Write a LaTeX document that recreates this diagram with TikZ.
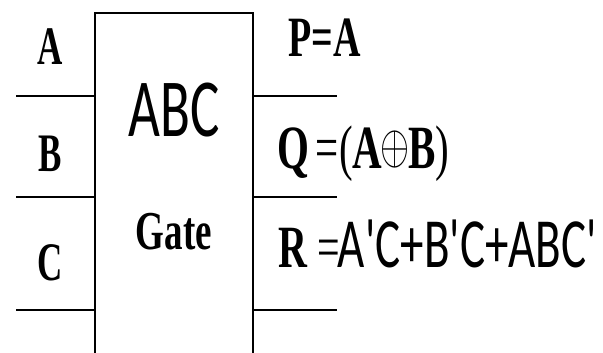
\documentclass[tikz,border=0pt]{standalone}
\usepackage{fontspec}
\setmainfont{Liberation Serif}
\newfontfamily\calfont{Carlito}
\usetikzlibrary{positioning}
\newcommand{\prm}{\textquotesingle}
\newcommand{\xorsym}{\kern-1.5pt\raisebox{3pt}{\scalebox{1.5}{\fontsize{24}{24}\selectfont$\oplus$}}\kern-1.5pt}

\begin{document}
\begin{tikzpicture}[
  x=1pt, y=-1pt,
  wire/.style={line width=2.4pt},
  pinlbl/.style={inner sep=0pt, yscale=1.55, font=\fontsize{35}{35}\selectfont\bfseries},
  outlbl/.style={inner sep=0pt, anchor=base west, yscale=1.5},
]
\useasboundingbox (0,0) rectangle (603,353);

% Gate outline, open at the bottom
\coordinate (gbl) at (95,353);
\coordinate (gtl) at (95,13);
\coordinate (gtr) at (253,13);
\coordinate (gbr) at (253,353);
\draw[wire] (gbl) -- (gtl) -- (gtr) -- (gbr);

% Input and output wires
\foreach \y [count=\i] in {96,197,310} {
  \coordinate (in\i) at (16,\y);
  \coordinate (gl\i) at (95,\y);
  \coordinate (gr\i) at (253,\y);
  \coordinate (out\i) at (337,\y);
  \draw[wire] (in\i) -- (gl\i);
  \draw[wire] (gr\i) -- (out\i);
}

% Input labels
\node[pinlbl] (lblA) at (50,47) {A};
\node[pinlbl] (lblB) at (50,154) {B};
\node[pinlbl] (lblC) at (50,263) {C};

% Gate name
\node[inner sep=0pt, yscale=1.5, font=\calfont\fontsize{55}{55}\selectfont] (gname) at (174,110) {ABC};
\node[inner sep=0pt, anchor=base, yscale=1.48, font=\fontsize{37}{37}\selectfont\bfseries] (gtxt) at (174,249) {Gate};

% Output labels
\node[outlbl, font=\fontsize{38}{38}\selectfont\bfseries] (lblP) at (288,57) {P=A};
\node[outlbl, font=\fontsize{41}{41}\selectfont] (lblQ) at (277,168) {\textbf{Q}\,=(\textbf{A}\xorsym\textbf{B})};
\node[outlbl, font=\fontsize{40}{40}\selectfont] (lblR) at (278,267)
  {\textbf{R} =\kern-2pt{\calfont\fontsize{47}{47}\selectfont A\prm C+B\prm C+ABC\prm}};
\end{tikzpicture}
\end{document}
